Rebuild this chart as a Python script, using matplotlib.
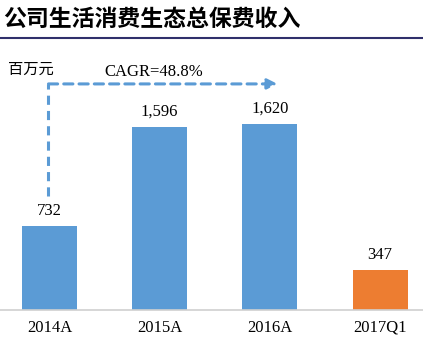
import matplotlib
matplotlib.use("Agg")
import matplotlib.pyplot as plt

categories = ["2014A", "2015A", "2016A", "2017Q1"]
values = [732, 1596, 1620, 347]
colors = ["#5B9BD5", "#5B9BD5", "#5B9BD5", "#ED7D31"]
value_labels = ["732", "1,596", "1,620", "347"]
title = "公司生活消费生态总保费收入"
unit = "百万元"
cagr = "CAGR=48.8%"

W, H = 423, 346
fig = plt.figure(figsize=(W / 100, H / 100), dpi=100)

# axes: baseline y=310, top y=45
ax = fig.add_axes([0, (H - 310) / H, 1, (310 - 45) / H])
x = list(range(len(categories)))
ax.bar(x, values, width=0.5, color=colors, zorder=2)
ax.set_xlim(-0.45, 3.39)
ax.set_ylim(0, 2308)
for s in ["top", "right", "left"]:
    ax.spines[s].set_visible(False)
ax.spines["bottom"].set_color("#D0D0D0")
ax.spines["bottom"].set_linewidth(1.2)
ax.set_yticks([])
ax.set_xticks(x)
ax.set_xticklabels(categories, family="Liberation Serif", fontsize=12)
ax.tick_params(axis="x", length=0, pad=7)

for xi, v, lab in zip(x, values, value_labels):
    ax.text(xi, v + 60, lab, ha="center", va="bottom", family="Liberation Serif", fontsize=12)

# dashed CAGR arrow
arrow_y = 1969
ax.plot([-0.01, -0.01], [995, arrow_y], ls=(0, (3, 2)), color="#5B9BD5", lw=2.2, clip_on=False)
ax.annotate("", xy=(2.07, arrow_y), xytext=(-0.01, arrow_y),
            arrowprops=dict(arrowstyle="-|>,head_length=0.6,head_width=0.3", color="#5B9BD5",
                            lw=2.2, ls=(0, (3, 2)), shrinkA=0, shrinkB=0),
            annotation_clip=False)
ax.text(0.95, 2073, cagr, ha="center", va="center", family="Liberation Serif", fontsize=12, clip_on=False)

fig.text(8 / W, 1 - 69 / H, unit, ha="left", va="center",
         family=["Noto Sans CJK SC", "DejaVu Sans"], fontsize=11)

# title
fig.text(3 / W, 1 - 19 / H, title, ha="left", va="center",
         family=["Noto Sans CJK SC", "DejaVu Sans"], fontsize=16.5, fontweight="bold")
fig.add_artist(plt.Line2D([0, 1], [1 - 38 / H, 1 - 38 / H], color="#2F2F6B", lw=1.5))

fig.savefig("out.png", dpi=100)
